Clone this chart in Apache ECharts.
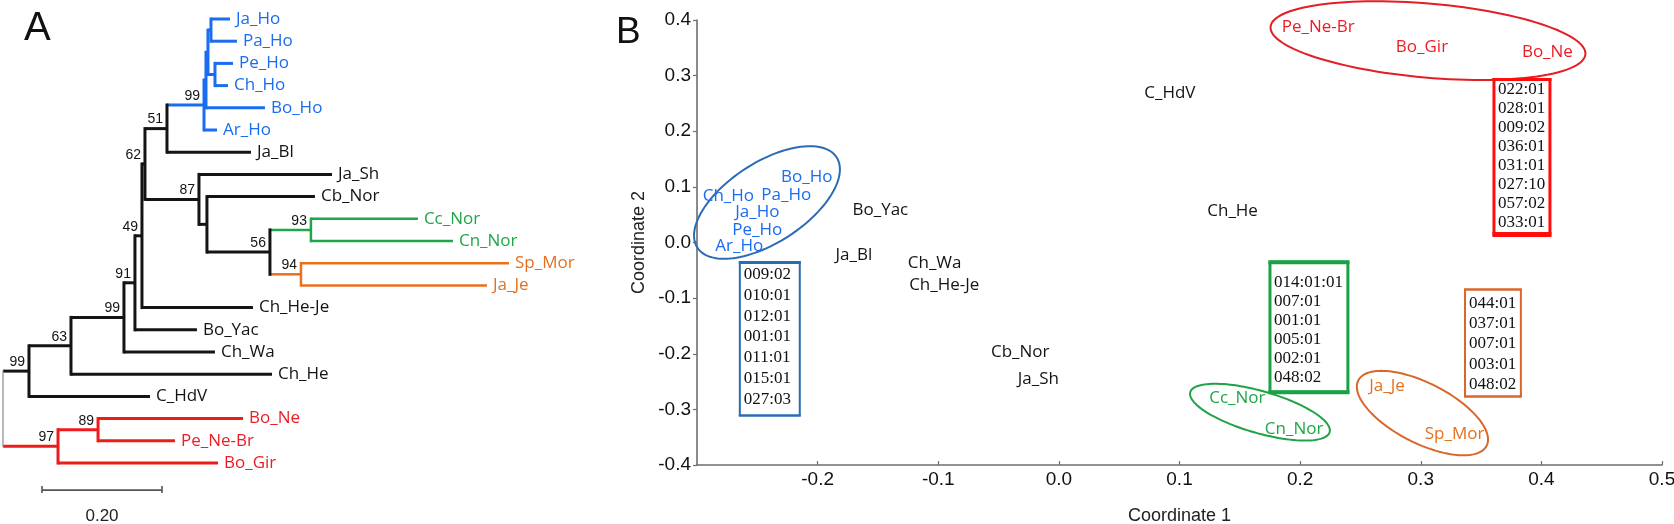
<!DOCTYPE html>
<html><head><meta charset="utf-8">
<script src="https://cdn.jsdelivr.net/npm/echarts@6/dist/echarts.min.js"></script>
<style>html,body{margin:0;padding:0;background:#fff}#c{width:1674px;height:524px}</style>
</head><body><div id="c"></div>
<script>
// ================= Panel A: neighbour-joining tree (nodes in pre-order) =================
const nodeName = ['','','','','','','','','','','','','Ja_Ho','Pa_Ho','','Pe_Ho','Ch_Ho','Bo_Ho','Ar_Ho','Ja_Bl','','Ja_Sh','','Cb_Nor','','','Cc_Nor','Cn_Nor','','Sp_Mor','Ja_Je','Ch_He-Je','Bo_Yac','Ch_Wa','Ch_He','C_HdV','','','Bo_Ne','Pe_Ne-Br','Bo_Gir'];
const nodeParent = [-1,0,1,2,3,4,5,6,7,8,9,10,11,11,10,14,14,9,8,7,6,20,20,22,22,24,25,25,24,28,28,5,4,3,2,1,0,36,37,37,36];
const branchLength = [0,0.0433,0.07,0.0883,0.0183,0.0117,0.005,0.0367,0.0617,0.0033,0.0033,0.005,0.0317,0.0433,0.0117,0.03,0.0217,0.0983,0.0217,0.14,0.09,0.2217,0.0133,0.18,0.105,0.0683,0.1783,0.2367,0.0517,0.3467,0.31,0.185,0.1033,0.1517,0.335,0.2017,0.0917,0.0667,0.2417,0.1283,0.2667];
const bootstrap = ['','99','63','99','91','49','62','51','99','','','','','','','','','','','','87','','','','56','93','','','94','','','','','','','','97','89','','',''];
const clade = ['root','k','k','k','k','k','k','k','b','b','b','b','b','b','b','b','b','b','b','k','k','k','k','k','k','g','g','g','o','o','o','k','k','k','k','k','r','r','r','r','r'];
const scaleBarLength = 0.20;
const scaleBarLabel = '0.20';

// ================= Panel B: PCoA =================
const pcoaNames = ['Bo_Ho','Ch_Ho','Pa_Ho','Ja_Ho','Pe_Ho','Ar_Ho','Bo_Yac','Ja_Bl','Ch_Wa','Ch_He-Je','Cb_Nor','Ja_Sh','C_HdV','Ch_He','Pe_Ne-Br','Bo_Gir','Bo_Ne','Cc_Nor','Cn_Nor','Ja_Je','Sp_Mor'];
const coord1 = [-0.209,-0.274,-0.226,-0.250,-0.250,-0.265,-0.148,-0.170,-0.103,-0.095,-0.032,-0.017,0.092,0.144,0.215,0.301,0.405,0.148,0.195,0.272,0.328];
const coord2 = [0.117,0.083,0.086,0.054,0.023,-0.007,0.058,-0.023,-0.038,-0.076,-0.198,-0.246,0.268,0.056,0.387,0.351,0.342,-0.279,-0.335,-0.259,-0.345];
const pcoaGroup = ['b','b','b','b','b','b','k','k','k','k','k','k','k','k','r','r','r','g','g','o','o'];

const ellipseCenterX = [-0.242, 0.306, 0.1667, 0.3014];
const ellipseCenterY = [0.072, 0.363, -0.305, -0.3067];
const ellipseSemiMajor = [0.0688, 0.131, 0.0601, 0.0597];   // in Coordinate 1 units
const ellipseSemiMinor = [0.0332, 0.0307, 0.0174, 0.0249];
const ellipseTilt = [33, -5, -16, -27];                     // degrees
const ellipseGroup = ['b','r','g','o'];

const boxX1 = [-0.2645, 0.3607, 0.175, 0.3367];
const boxX2 = [-0.2148, 0.4071, 0.2396, 0.383];
const boxY1 = [-0.036, 0.293, -0.0354, -0.0845];
const boxY2 = [-0.311, 0.0144, -0.269, -0.277];
const boxAlleles = [
  ['009:02','010:01','012:01','001:01','011:01','015:01','027:03'],
  ['022:01','028:01','009:02','036:01','031:01','027:10','057:02','033:01'],
  ['014:01:01','007:01','001:01','005:01','002:01','048:02'],
  ['044:01','037:01','007:01','003:01','048:02']
];
const boxGroup = ['b','r','g','o'];

const xTicks = {min:-0.3, max:0.5, step:0.1};
const yTicks = {min:-0.4, max:0.4, step:0.1};

// ----- styles -----
const treeColor = {root:'#8a8a8a', k:'#141414', b:'#1a6cf0', g:'#1ea64a', o:'#e8701e', r:'#ef1b1b'};
const treeWidth = {root:1.2, k:3, b:3, g:2.5, o:2.5, r:3};
const textColor = {k:'#141414', b:'#1a6cf0', g:'#1fa64a', o:'#e5701e', r:'#ee1c24'};
const ellipseColor = {b:'#2b6cb5', r:'#e31e24', g:'#1fa346', o:'#d9662a'};
const boxColor = {b:'#2b6cb5', r:'#ff0d0d', g:'#19a244', o:'#d9662a'};
const boxStyle = [
  {lw:2, topW:3, botW:2, pad:12, gap:20.8},
  {lw:3, topW:3, botW:5, pad:10, gap:19.05},
  {lw:3, topW:4, botW:4, pad:20, gap:19},
  {lw:2, topW:2, botW:2, pad:14, gap:20.2}
];

// ----- tree layout -----
const N = nodeParent.length;
const children = Array.from({length:N}, () => []);
for (let i = 1; i < N; i++) children[nodeParent[i]].push(i);
const nx = new Array(N).fill(0), ny = new Array(N).fill(0);
for (let i = 1; i < N; i++) nx[i] = nx[nodeParent[i]] + branchLength[i];
let leafIdx = 0;
for (let i = 0; i < N; i++) if (!children[i].length) ny[i] = leafIdx++;
for (let i = N - 1; i >= 0; i--) if (children[i].length) { const c = children[i]; ny[i] = (ny[c[0]] + ny[c[c.length - 1]]) / 2; }
const segs = [], segNode = [], segVert = [];
for (let i = 1; i < N; i++) { segs.push([nx[nodeParent[i]], ny[i], nx[i], ny[i]]); segNode.push(i); segVert.push(false); }
for (let i = 0; i < N; i++) if (children[i].length) { const c = children[i]; segs.push([nx[i], ny[c[0]], nx[i], ny[c[c.length - 1]]]); segNode.push(i); segVert.push(true); }
const leaves = [], leafNode = [];
for (let i = 0; i < N; i++) if (!children[i].length) { leaves.push([nx[i], ny[i]]); leafNode.push(i); }
const bsPts = [], bsNode = [];
for (let i = 0; i < N; i++) if (bootstrap[i]) { bsPts.push([nx[i], ny[i]]); bsNode.push(i); }

const fmt = v => (Math.abs(v) < 1e-9 ? 0 : v).toFixed(1);
const axisGray = '#6e6e6e';

const option = {
  animation: false,
  backgroundColor: '#ffffff',
  title: [
    {text:'A', left:19, top:4, textStyle:{fontFamily:'Liberation Sans', fontSize:40, fontWeight:'normal', color:'#111'}},
    {text:'B', left:611, top:9, textStyle:{fontFamily:'Liberation Sans', fontSize:37, fontWeight:'normal', color:'#111'}}
  ],
  grid: [
    {left:3, top:19, width:600, height:444, outerBoundsMode:'none', containLabel:false},
    {left:697, right:12, top:20, bottom:59, outerBoundsMode:'none', containLabel:false}
  ],
  xAxis: [
    {gridIndex:0, type:'value', min:0, max:1, show:false},
    {gridIndex:1, type:'value', min:xTicks.min, max:xTicks.max, interval:xTicks.step,
     name:'Coordinate 1', nameLocation:'middle', nameGap:42, nameMoveOverlap:false,
     nameTextStyle:{fontFamily:'Liberation Sans', fontSize:18, color:'#222'},
     axisLine:{show:true, onZero:false, lineStyle:{color:axisGray, width:1.6}},
     axisTick:{show:true, inside:true, length:4, lineStyle:{color:axisGray, width:1.2}},
     axisLabel:{show:true, showMinLabel:false, margin:5, formatter:fmt, fontFamily:'Liberation Sans', fontSize:19, color:'#111', hideOverlap:false},
     splitLine:{show:false}}
  ],
  yAxis: [
    {gridIndex:0, type:'value', min:0, max:20, inverse:true, show:false},
    {gridIndex:1, type:'value', min:yTicks.min, max:yTicks.max, interval:yTicks.step,
     name:'Coordinate 2', nameLocation:'middle', nameRotate:90, nameGap:49, nameMoveOverlap:false,
     nameTextStyle:{fontFamily:'Liberation Sans', fontSize:18, color:'#222'},
     axisLine:{show:true, onZero:false, lineStyle:{color:axisGray, width:1.6}},
     axisTick:{show:true, inside:false, length:4, lineStyle:{color:axisGray, width:1.2}},
     axisLabel:{show:true, margin:6, formatter:fmt, fontFamily:'Liberation Sans', fontSize:19, color:'#111', hideOverlap:false},
     splitLine:{show:false}}
  ],
  series: [
    // tree branches
    {type:'custom', xAxisIndex:0, yAxisIndex:0, silent:true, clip:false, data:segs,
     renderItem:(params, api) => {
       const i = params.dataIndex, c = clade[segNode[i]];
       const p1 = api.coord([api.value(0), api.value(1)]), p2 = api.coord([api.value(2), api.value(3)]);
       return {type:'line', shape:{x1:p1[0], y1:p1[1], x2:p2[0], y2:p2[1]},
               style:{stroke:treeColor[c], lineWidth:treeWidth[c], lineCap: segVert[i] ? 'square' : 'butt'}};
     }},
    // leaf names
    {type:'custom', xAxisIndex:0, yAxisIndex:0, silent:true, clip:false, data:leaves,
     renderItem:(params, api) => {
       const n = leafNode[params.dataIndex];
       const p = api.coord([api.value(0), api.value(1)]);
       return {type:'text', x:p[0] + 6, y:p[1],
               style:{text:nodeName[n], fill:textColor[clade[n]], fontFamily:'Open Sans', fontSize:17, align:'left', verticalAlign:'middle'}};
     }},
    // bootstrap values
    {type:'custom', xAxisIndex:0, yAxisIndex:0, silent:true, clip:false, data:bsPts,
     renderItem:(params, api) => {
       const n = bsNode[params.dataIndex];
       const p = api.coord([api.value(0), api.value(1)]);
       return {type:'text', x:p[0] - 4, y:p[1] - 2,
               style:{text:bootstrap[n], fill:'#141414', fontFamily:'Liberation Sans', fontSize:14, align:'right', verticalAlign:'bottom'}};
     }},
    // scale bar
    {type:'custom', xAxisIndex:0, yAxisIndex:0, silent:true, clip:false, data:[[0.065, 21.22]],
     renderItem:(params, api) => {
       const x0 = api.value(0), y0 = api.value(1);
       const p1 = api.coord([x0, y0]), p2 = api.coord([x0 + scaleBarLength, y0]);
       const lab = api.coord([x0 + scaleBarLength / 2, y0 + 1.2]);
       const st = {stroke:'#555', lineWidth:1.6};
       return {type:'group', children:[
         {type:'line', shape:{x1:p1[0], y1:p1[1], x2:p2[0], y2:p2[1]}, style:st},
         {type:'line', shape:{x1:p1[0], y1:p1[1] - 4, x2:p1[0], y2:p1[1] + 3}, style:st},
         {type:'line', shape:{x1:p2[0], y1:p2[1] - 4, x2:p2[0], y2:p2[1] + 3}, style:st},
         {type:'text', x:lab[0], y:lab[1], style:{text:scaleBarLabel, fill:'#222', fontFamily:'Liberation Sans', fontSize:17, align:'center', verticalAlign:'middle'}}
       ]};
     }},
    // PCoA ellipses
    {type:'custom', xAxisIndex:1, yAxisIndex:1, silent:true, clip:false,
     data: ellipseCenterX.map((x, i) => [x, ellipseCenterY[i]]),
     renderItem:(params, api) => {
       const i = params.dataIndex;
       const c = api.coord([api.value(0), api.value(1)]);
       const k = api.size([1, 0])[0];
       const a = ellipseSemiMajor[i] * k, b = ellipseSemiMinor[i] * k, th = ellipseTilt[i] * Math.PI / 180;
       const pts = [];
       for (let s = 0; s < 120; s++) {
         const t = s / 120 * Math.PI * 2;
         pts.push([c[0] + a * Math.cos(t) * Math.cos(th) - b * Math.sin(t) * Math.sin(th),
                   c[1] - (a * Math.cos(t) * Math.sin(th) + b * Math.sin(t) * Math.cos(th))]);
       }
       return {type:'polygon', shape:{points:pts}, style:{fill:'none', stroke:ellipseColor[ellipseGroup[i]], lineWidth:2}};
     }},
    // allele boxes
    {type:'custom', xAxisIndex:1, yAxisIndex:1, silent:true, clip:false,
     data: boxX1.map((x, i) => [x, boxY1[i]]),
     renderItem:(params, api) => {
       const i = params.dataIndex, st = boxStyle[i], col = boxColor[boxGroup[i]];
       const p1 = api.coord([boxX1[i], boxY1[i]]), p2 = api.coord([boxX2[i], boxY2[i]]);
       const ch = [
         {type:'rect', shape:{x:p1[0], y:p1[1], width:p2[0] - p1[0], height:p2[1] - p1[1]}, style:{fill:'none', stroke:col, lineWidth:st.lw}},
         {type:'line', shape:{x1:p1[0] - st.lw / 2, y1:p1[1], x2:p2[0] + st.lw / 2, y2:p1[1]}, style:{stroke:col, lineWidth:st.topW}},
         {type:'line', shape:{x1:p1[0] - st.lw / 2, y1:p2[1], x2:p2[0] + st.lw / 2, y2:p2[1]}, style:{stroke:col, lineWidth:st.botW}}
       ];
       boxAlleles[i].forEach((t, r) => {
         ch.push({type:'text', x:p1[0] + 4, y:p1[1] + st.pad + r * st.gap,
                  style:{text:t, fill:'#111', fontFamily:'Liberation Serif', fontSize:17, align:'left', verticalAlign:'middle'}});
       });
       return {type:'group', children:ch};
     }},
    // PCoA labels
    {type:'custom', xAxisIndex:1, yAxisIndex:1, silent:true, clip:false,
     data: coord1.map((x, i) => [x, coord2[i]]),
     renderItem:(params, api) => {
       const i = params.dataIndex;
       const p = api.coord([api.value(0), api.value(1)]);
       return {type:'text', x:p[0], y:p[1],
               style:{text:pcoaNames[i], fill:textColor[pcoaGroup[i]], fontFamily:'Open Sans', fontSize:17, align:'center', verticalAlign:'middle'}};
     }}
  ]
};
const chart = echarts.init(document.getElementById('c'), null, {renderer:'canvas'});
chart.setOption(option);
</script>
</body></html>
